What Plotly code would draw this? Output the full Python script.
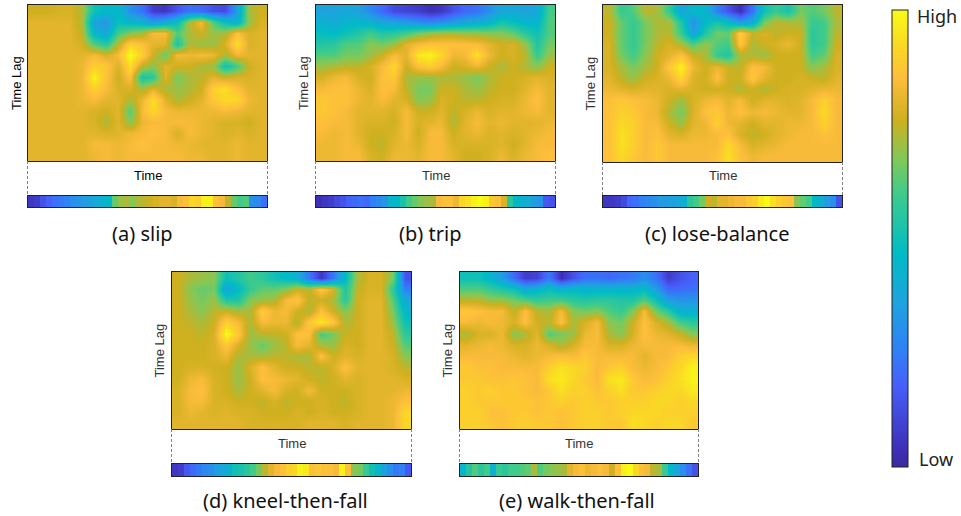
import plotly.graph_objects as go

W, H = 961, 516

parula = [[0.00, "#3b2a9e"], [0.04, "#3e2fb8"], [0.18, "#4660fa"], [0.26, "#2e82f5"],
          [0.35, "#20a0e0"], [0.467, "#00bcc5"], [0.60, "#3fcb8a"], [0.67, "#7ec95a"],
          [0.76, "#cfb01f"], [0.80, "#e2b52c"], [0.85, "#fdbd3c"], [0.92, "#fad725"], [1.00, "#f9fb15"]]

slip = [
 [76,76,77,78,72,50,45,45,30,22,8,6,15,22,20,14,12,35,72,76],
 [80,80,80,80,72,36,32,48,45,42,35,40,48,72,84,62,48,42,70,78],
 [80,80,80,80,74,44,38,60,68,72,84,84,62,72,76,70,72,86,78,80],
 [80,80,80,80,77,62,55,74,90,86,80,80,52,72,70,70,78,94,78,80],
 [80,80,80,80,80,84,78,84,100,90,76,64,84,82,84,82,72,82,80,80],
 [80,80,80,80,82,90,88,78,94,74,68,80,76,76,72,70,50,60,76,80],
 [80,80,80,80,82,98,86,76,86,52,56,80,66,72,74,80,76,78,78,80],
 [80,80,80,80,82,90,84,78,78,72,80,72,70,72,76,90,94,86,80,80],
 [80,80,80,80,82,84,80,80,72,82,94,80,72,76,80,88,92,92,82,80],
 [80,80,80,80,80,78,76,80,62,84,92,84,82,82,82,82,84,82,80,80],
 [80,80,80,80,80,78,72,80,68,82,84,84,84,84,82,80,78,78,76,80],
 [80,80,80,80,80,80,78,80,82,84,86,84,78,84,82,80,78,80,78,80],
 [80,80,80,80,80,84,84,82,84,86,84,84,82,82,80,80,80,82,80,80],
 [80,80,80,80,80,82,84,82,84,84,84,84,84,82,82,80,80,82,80,80],
]
trip = [
 [36,36,38,36,28,20,12,10,8,4,6,14,20,22,30,38,38,36,38,60],
 [42,40,44,44,42,38,36,34,30,28,30,34,38,40,44,52,48,44,44,62],
 [48,46,50,54,60,54,56,60,66,70,72,72,70,70,68,68,64,56,50,62],
 [54,56,62,62,68,66,70,80,84,86,86,86,86,84,80,76,78,70,54,66],
 [62,62,66,66,70,76,84,80,96,98,92,82,84,94,82,76,78,74,58,70],
 [70,72,74,74,78,84,92,76,86,90,84,76,78,82,76,72,76,72,68,76],
 [78,82,84,78,76,86,88,72,70,70,72,72,70,66,72,76,76,78,80,78],
 [84,86,86,82,78,86,84,74,66,66,76,76,72,70,74,76,76,80,84,80],
 [88,86,86,82,80,84,80,78,68,70,78,76,74,74,76,78,78,82,86,80],
 [88,86,84,80,80,80,78,84,76,76,80,74,78,82,78,80,80,82,84,80],
 [86,84,84,80,78,78,76,84,78,80,82,72,80,84,80,82,80,80,80,82],
 [84,82,84,80,76,76,78,84,76,84,84,76,80,82,78,80,78,80,82,84],
 [82,82,84,82,76,74,80,82,78,84,84,78,78,78,78,80,76,80,84,84],
 [82,82,84,84,78,76,82,82,80,84,84,80,76,76,78,82,78,82,84,86],
]
lose_balance = [
 [74,58,62,74,72,58,36,46,44,26,14,4,22,50,58,52,66,62,66,74],
 [76,64,58,66,72,72,54,30,46,52,46,34,40,66,74,72,72,58,60,72],
 [76,64,58,66,72,74,58,36,54,66,64,90,76,78,74,76,76,56,60,74],
 [78,64,58,66,74,78,72,62,70,62,60,88,72,76,78,82,76,56,60,76],
 [78,66,60,68,76,80,86,76,72,58,54,72,72,70,76,76,76,60,64,78],
 [78,72,66,72,76,88,98,82,76,82,76,74,86,84,76,76,76,68,72,78],
 [80,74,70,76,78,82,92,78,76,86,76,76,88,80,76,76,78,76,74,80],
 [82,80,78,80,80,78,80,78,76,76,76,72,76,72,76,78,78,80,82,82],
 [86,88,86,84,82,76,70,78,82,84,80,84,76,80,80,78,80,84,90,84],
 [86,90,88,84,82,72,66,78,86,88,82,86,82,84,82,80,80,84,92,84],
 [86,92,90,84,84,76,70,80,82,90,82,80,76,80,80,82,82,84,90,84],
 [86,94,90,84,86,80,78,82,82,84,86,78,74,76,80,82,84,84,86,84],
 [86,94,90,84,88,84,84,84,84,84,92,84,78,80,82,84,84,84,84,84],
 [86,92,88,84,88,84,84,84,84,86,94,86,82,84,84,84,84,84,84,84],
]
kneel_then_fall = [
 [76,72,70,68,50,54,60,56,50,46,42,24,6,24,46,72,78,78,66,14],
 [76,68,64,66,36,46,58,64,64,68,76,74,88,78,54,74,78,78,56,26],
 [76,70,66,70,54,54,68,70,72,84,88,74,76,72,56,76,80,80,62,38],
 [76,72,68,74,76,72,72,90,82,84,76,72,86,76,68,76,80,80,66,44],
 [76,74,72,76,90,84,72,84,82,82,72,88,96,88,72,76,80,80,70,50],
 [76,76,74,78,100,88,70,74,74,76,86,86,60,66,76,76,80,80,74,56],
 [76,76,76,78,88,78,70,64,70,74,84,80,72,70,78,76,80,80,76,62],
 [76,76,76,78,82,72,72,72,74,74,72,72,86,76,80,78,80,80,78,68],
 [76,78,78,76,76,70,78,86,80,76,76,74,74,78,86,80,80,80,78,74],
 [76,82,84,78,76,70,76,86,84,82,80,76,74,76,80,78,80,80,80,78],
 [78,84,86,78,76,72,76,80,84,78,76,84,76,76,76,78,80,80,80,82],
 [78,84,84,78,78,76,76,74,78,74,76,76,78,76,74,78,80,80,82,86],
 [78,82,80,78,80,78,78,76,76,76,78,76,78,76,76,78,80,80,82,92],
 [80,80,80,80,80,80,78,78,78,78,78,80,80,80,78,80,80,80,82,92],
]
walk_then_fall = [
 [50,50,44,34,20,8,10,24,4,14,22,22,20,22,24,30,22,8,14,18],
 [62,62,58,54,50,40,44,48,44,46,44,44,44,44,44,46,34,20,20,22],
 [74,74,70,70,66,62,58,60,60,56,54,56,56,54,54,62,50,34,32,32],
 [88,86,84,84,74,86,74,72,84,68,66,68,62,58,68,84,66,56,42,42],
 [84,82,84,82,78,86,76,74,86,72,78,84,68,66,76,86,78,72,60,56],
 [72,78,78,82,68,72,80,62,66,70,82,84,72,68,78,86,82,80,76,68],
 [80,82,84,82,78,78,82,78,72,78,84,84,78,78,82,84,84,84,84,82],
 [84,84,84,84,82,80,82,84,86,84,88,84,84,84,84,80,84,84,90,92],
 [88,86,86,84,84,84,84,90,94,92,90,84,88,90,84,82,84,88,92,98],
 [88,88,86,86,88,86,84,94,96,92,88,84,94,96,88,84,86,90,94,98],
 [90,88,90,88,88,86,84,88,94,90,90,86,90,94,88,88,90,92,92,96],
 [90,88,88,88,88,88,86,88,90,88,90,88,88,90,90,90,92,92,90,92],
 [90,90,86,86,88,88,86,88,86,88,90,90,88,90,92,92,92,90,90,90],
 [90,90,88,86,88,90,88,88,86,88,90,90,88,88,94,92,90,92,92,88],
]

strip_slip = [6,8,14,18,22,24,26,30,32,34,36,40,42,46,64,70,72,68,72,74,76,78,80,80,78,84,86,92,90,98,98,86,84,74,64,60,62,30,28,22]
strip_trip = [4,6,8,12,14,18,20,22,20,26,28,32,44,46,52,60,64,68,70,72,84,86,86,82,92,94,98,100,98,88,86,78,56,46,42,40,34,32,16,14]
strip_lose = [6,6,8,12,20,22,26,28,30,34,34,36,38,42,56,60,66,76,74,80,80,82,84,84,88,90,96,100,94,90,88,86,68,64,60,46,42,34,30,14]
strip_kneel = [6,8,16,20,24,28,30,34,38,42,50,52,56,60,66,74,80,84,86,90,92,98,96,86,88,86,86,84,98,86,68,66,58,50,44,36,30,24,26,16]
strip_walk = [44,54,62,56,60,42,58,56,60,60,62,64,72,62,66,68,70,72,80,84,86,82,84,86,84,76,86,98,100,92,86,84,74,72,58,46,38,30,22,14]

captions = ["(a) slip", "(b) trip", "(c) lose-balance", "(d) kneel-then-fall", "(e) walk-then-fall"]
grids = [slip, trip, lose_balance, kneel_then_fall, walk_then_fall]
strips = [strip_slip, strip_trip, strip_lose, strip_kneel, strip_walk]

# pixel boxes: left, right, map top, map bottom, strip top, strip bottom, caption centre x, caption y
boxes = [(28, 267, 5, 161, 196, 207, 142, 233),
         (316, 555, 5, 161, 196, 207, 430, 233),
         (603, 842, 5, 162, 196, 207, 717, 233),
         (172, 411, 272, 429, 464, 476, 285, 500),
         (460, 698, 272, 429, 464, 476, 577, 500)]

fx = lambda p: p / W
fy = lambda p: 1 - p / H

fig = go.Figure()
anns, shapes = [], []
frame = dict(showline=True, mirror=True, linecolor="#222222", linewidth=1, ticks="",
             showticklabels=False, showgrid=False, zeroline=False)
n = 0
for k, (grid, strip, cap, b) in enumerate(zip(grids, strips, captions, boxes)):
    l, r, t, bt, st, sb, cx, cy = b
    n += 1
    rows, cols = len(grid), len(grid[0])
    fig.add_trace(go.Heatmap(z=grid, x=list(range(cols)), y=list(range(rows)), coloraxis="coloraxis",
                             zsmooth="best", xaxis=f"x{n}", yaxis=f"y{n}", hoverinfo="skip"))
    fig.layout[f"xaxis{n}"] = dict(frame, domain=[fx(l), fx(r)], range=[-0.5, cols - 0.5], anchor=f"y{n}")
    fig.layout[f"yaxis{n}"] = dict(frame, domain=[fy(bt), fy(t)], range=[rows - 0.5, -0.5], anchor=f"x{n}")
    n += 1
    fig.add_trace(go.Heatmap(z=[strip], x=list(range(len(strip))), y=[0], coloraxis="coloraxis",
                             xaxis=f"x{n}", yaxis=f"y{n}", hoverinfo="skip"))
    fig.layout[f"xaxis{n}"] = dict(frame, domain=[fx(l), fx(r)], range=[-0.5, len(strip) - 0.5], anchor=f"y{n}")
    fig.layout[f"yaxis{n}"] = dict(frame, domain=[fy(sb), fy(st)], range=[-0.5, 0.5], anchor=f"x{n}")
    for x in (l - 0.5, r + 0.5):
        shapes.append(dict(type="line", xref="paper", yref="paper", x0=fx(x), x1=fx(x), y0=fy(bt), y1=fy(st),
                           line=dict(color="#808080", width=1, dash="3px,2px")))
    dark = "#000000" if k == 0 else "#333333"
    anns.append(dict(text="Time", x=fx((l + r) / 2), y=fy((bt + st) / 2 - 3), xref="paper", yref="paper", showarrow=False,
                     font=dict(family="Liberation Sans", size=13, color=dark), xanchor="center", yanchor="middle"))
    anns.append(dict(text="Time Lag", x=fx(l - (12 if k == 0 else 13)), y=fy((t + bt) / 2), xref="paper", yref="paper",
                     showarrow=False, textangle=-90, font=dict(family="Liberation Sans", size=13, color=dark),
                     xanchor="center", yanchor="middle"))
    anns.append(dict(text=cap, x=fx(cx), y=fy(cy), xref="paper", yref="paper", showarrow=False,
                     font=dict(family="Noto Sans", size=20, color="#111111"), xanchor="center", yanchor="middle"))

anns.append(dict(text="High", x=fx(915), y=fy(16), xref="paper", yref="paper", showarrow=False, xanchor="left",
                 yanchor="middle", font=dict(family="Noto Sans", size=18, color="#222222")))
anns.append(dict(text="Low", x=fx(917), y=fy(459), xref="paper", yref="paper", showarrow=False, xanchor="left",
                 yanchor="middle", font=dict(family="Noto Sans", size=18, color="#222222")))

fig.update_layout(
    width=W, height=H, margin=dict(l=0, r=0, t=0, b=0), paper_bgcolor="white", plot_bgcolor="white",
    showlegend=False, annotations=anns, shapes=shapes,
    coloraxis=dict(colorscale=parula, cmin=0, cmax=100,
                   colorbar=dict(x=fx(892), xanchor="left", y=fy(10), yanchor="top", len=457, lenmode="pixels",
                                 thickness=16, thicknessmode="pixels", xpad=0, ypad=0, ticks="", showticklabels=False,
                                 outlinecolor="#222222", outlinewidth=1)),
)
fig.write_html("out.html", config={"displayModeBar": False},
               post_script="document.body.style.margin='0';document.body.style.overflow='hidden';")
